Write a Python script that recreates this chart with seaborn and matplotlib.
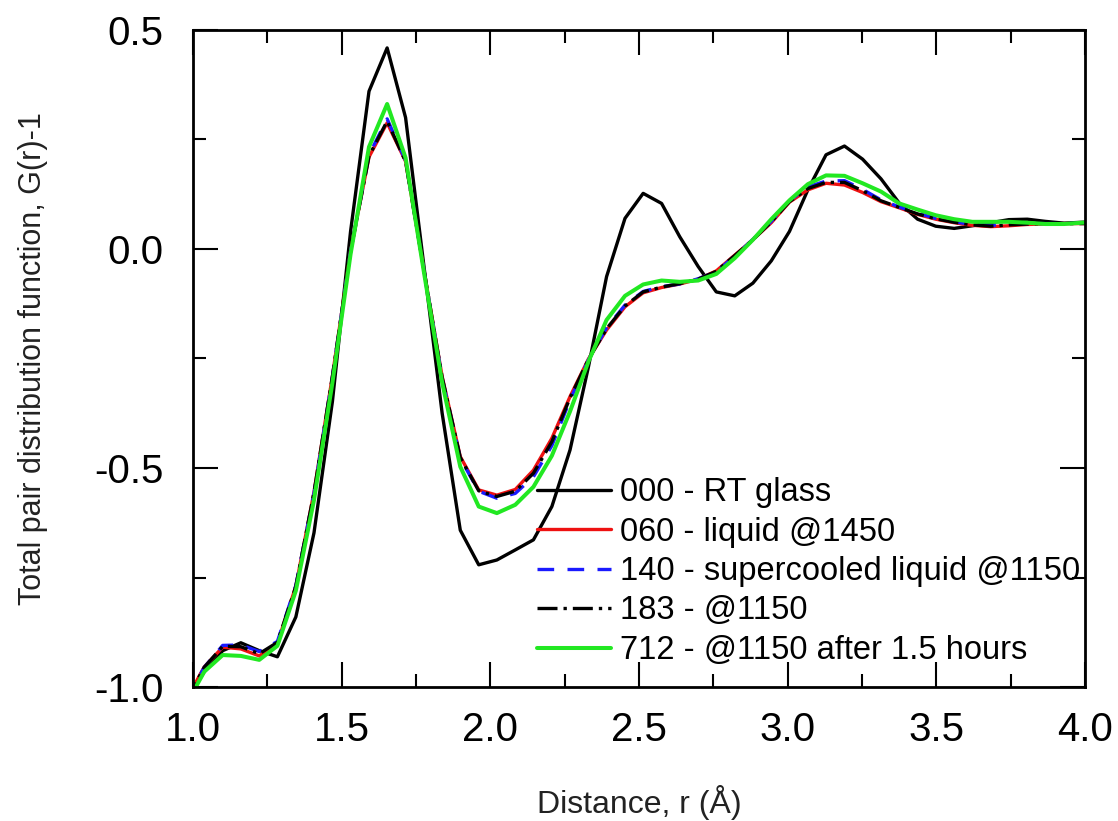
import numpy as np
import pandas as pd
import matplotlib
matplotlib.use('Agg')
import matplotlib.pyplot as plt
from matplotlib.ticker import MultipleLocator
import seaborn as sns

# distance grid, r (Angstrom)
r = [0.977, 1.038, 1.100, 1.161, 1.223, 1.284, 1.346, 1.407, 1.469, 1.530,
     1.592, 1.653, 1.715, 1.776, 1.838, 1.899, 1.961, 2.022, 2.084, 2.145,
     2.207, 2.268, 2.330, 2.391, 2.453, 2.514, 2.576, 2.637, 2.699, 2.760,
     2.822, 2.883, 2.945, 3.006, 3.068, 3.129, 3.191, 3.252, 3.314, 3.375,
     3.437, 3.498, 3.560, 3.621, 3.683, 3.744, 3.806, 3.867, 3.929, 3.990,
     4.052]

g_000 = [-1.03, -0.965, -0.917, -0.899, -0.917, -0.931, -0.840, -0.648, -0.348, 0.040,
         0.360, 0.459, 0.300, -0.035, -0.375, -0.642, -0.721, -0.710, -0.687, -0.664,
         -0.588, -0.459, -0.269, -0.063, 0.070, 0.127, 0.104, 0.028, -0.040, -0.098,
         -0.107, -0.078, -0.027, 0.040, 0.135, 0.215, 0.235, 0.205, 0.160, 0.105,
         0.068, 0.052, 0.047, 0.053, 0.060, 0.067, 0.068, 0.063, 0.059, 0.061,
         0.062]

g_060 = [-1.03, -0.954, -0.909, -0.913, -0.929, -0.900, -0.770, -0.555, -0.290, -0.005,
         0.210, 0.288, 0.200, -0.045, -0.291, -0.474, -0.550, -0.562, -0.549, -0.505,
         -0.432, -0.337, -0.251, -0.185, -0.132, -0.100, -0.088, -0.080, -0.069, -0.050,
         -0.014, 0.021, 0.060, 0.107, 0.135, 0.150, 0.146, 0.129, 0.108, 0.094,
         0.079, 0.068, 0.060, 0.054, 0.051, 0.053, 0.056, 0.057, 0.058, 0.058,
         0.058]

g_140 = [-1.03, -0.955, -0.905, -0.904, -0.919, -0.896, -0.768, -0.558, -0.292, -0.005,
         0.215, 0.297, 0.202, -0.045, -0.295, -0.478, -0.553, -0.569, -0.558, -0.520,
         -0.449, -0.345, -0.253, -0.180, -0.128, -0.097, -0.086, -0.080, -0.068, -0.052,
         -0.016, 0.022, 0.063, 0.110, 0.142, 0.155, 0.156, 0.136, 0.112, 0.096,
         0.082, 0.070, 0.062, 0.056, 0.054, 0.056, 0.058, 0.058, 0.058, 0.059,
         0.059]

g_183 = [-1.03, -0.955, -0.907, -0.908, -0.924, -0.898, -0.770, -0.556, -0.291, -0.006,
         0.212, 0.292, 0.200, -0.045, -0.293, -0.476, -0.552, -0.565, -0.553, -0.512,
         -0.440, -0.340, -0.252, -0.182, -0.130, -0.098, -0.087, -0.079, -0.069, -0.051,
         -0.015, 0.021, 0.062, 0.108, 0.138, 0.152, 0.152, 0.133, 0.110, 0.095,
         0.080, 0.069, 0.061, 0.055, 0.052, 0.055, 0.057, 0.058, 0.058, 0.058,
         0.058]

g_712 = [-1.04, -0.965, -0.927, -0.929, -0.938, -0.906, -0.780, -0.573, -0.305, -0.012,
         0.233, 0.331, 0.208, -0.050, -0.305, -0.497, -0.588, -0.603, -0.584, -0.543,
         -0.472, -0.371, -0.257, -0.162, -0.107, -0.081, -0.072, -0.075, -0.072, -0.057,
         -0.021, 0.021, 0.068, 0.111, 0.148, 0.168, 0.167, 0.150, 0.131, 0.104,
         0.090, 0.077, 0.068, 0.062, 0.062, 0.062, 0.060, 0.057, 0.057, 0.060,
         0.061]

labels = ['000 - RT glass', '060 - liquid @1450', '140 - supercooled liquid @1150',
          '183 - @1150', '712 - @1150 after 1.5 hours']

#  Setup
sns.set_theme(style='ticks')
plt.rcParams['font.family'] = ['Liberation Sans', 'DejaVu Sans']
plt.rcParams['axes.unicode_minus'] = False

fig = plt.figure(figsize=(11.18, 8.21), dpi=100)
ax = fig.add_axes([0.1726, 0.1632, 0.7979, 0.8003])

styles = [
    dict(color='#000000', lw=2.4, ls='-'),
    dict(color='#ee1111', lw=2.4, ls='-'),
    dict(color='#1a1aff', lw=2.4, ls=(0, (5, 4))),
    dict(color='#000000', lw=2.4, ls=(0, (6, 1.8, 1, 1.8))),
    dict(color='#22e822', lw=2.9, ls='-'),
]
series = [g_000, g_060, g_140, g_183, g_712]

for y, lab, st in zip(series, labels, styles):
    df = pd.DataFrame({'r': r, 'g': y})
    sns.lineplot(data=df, x='r', y='g', ax=ax, label=lab, estimator=None,
                 color=st['color'], linewidth=st['lw'], linestyle=st['ls'])

ax.set_xlim(1.0, 4.0)
ax.set_ylim(-1.0, 0.5)
ax.xaxis.set_major_locator(MultipleLocator(0.5))
ax.xaxis.set_minor_locator(MultipleLocator(0.25))
ax.yaxis.set_major_locator(MultipleLocator(0.5))
ax.yaxis.set_minor_locator(MultipleLocator(0.25))
ax.xaxis.set_major_formatter(plt.FormatStrFormatter('%.1f'))
ax.yaxis.set_major_formatter(plt.FormatStrFormatter('%.1f'))

ax.tick_params(which='both', direction='in', top=True, right=True,
               width=1.5, colors='black')
ax.tick_params(which='major', length=18, labelsize=29)
ax.tick_params(axis='x', which='major', pad=17)
ax.tick_params(axis='y', which='major', pad=21)
ax.tick_params(which='minor', length=9.5)
for sp in ax.spines.values():
    sp.set_linewidth(2.0)
    sp.set_color('black')

ax.set_xlabel('Distance, r (Å)', fontsize=23, labelpad=26, color='#222222')
ax.set_ylabel('Total pair distribution function, G(r)-1', fontsize=22,
              labelpad=33, color='#222222')

leg = ax.legend(loc='upper left', bbox_to_anchor=(0.3857, 0.3196), frameon=False,
                fontsize=23.5, handlelength=2.27, handletextpad=0.27,
                labelspacing=0.26, borderpad=0, borderaxespad=0)
for t in leg.get_texts():
    t.set_color('black')

fig.savefig('out.png', dpi=100)
